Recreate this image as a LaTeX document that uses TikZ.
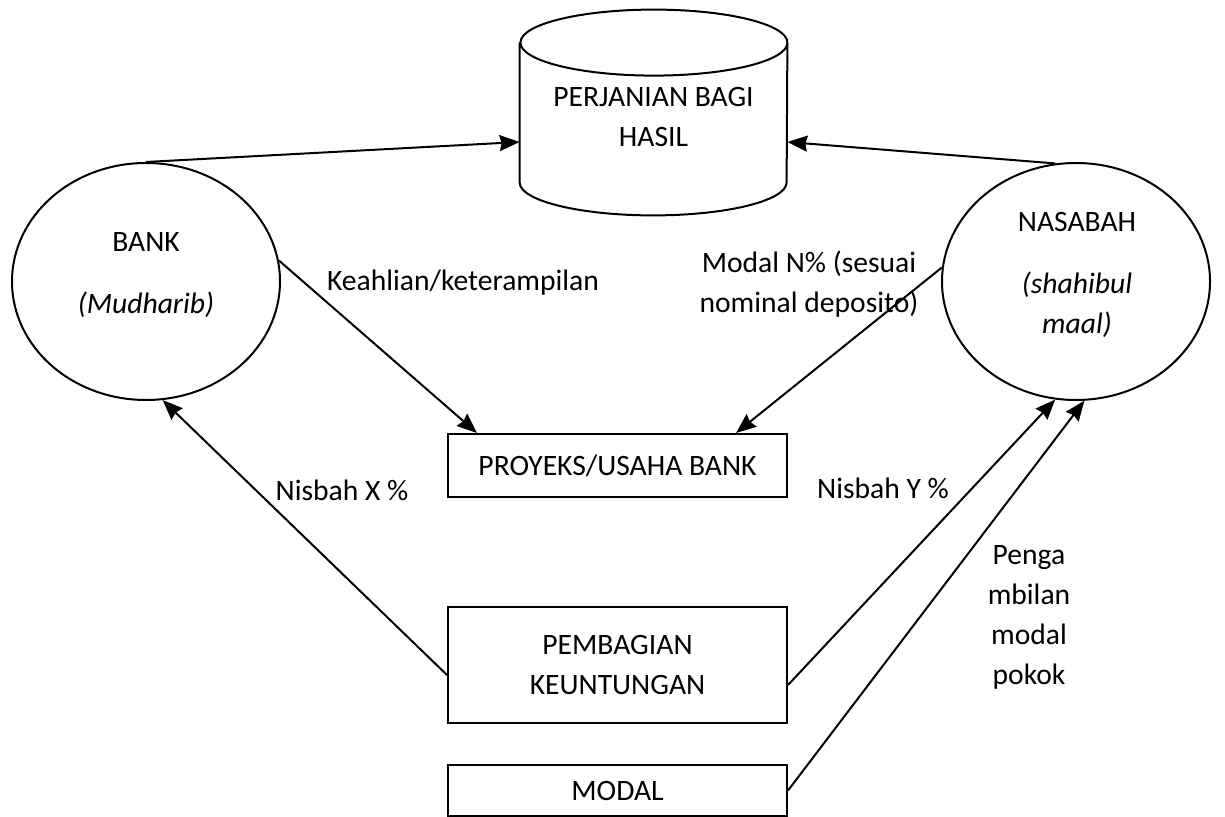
\documentclass[tikz,border=0pt]{standalone}
\usepackage{fontspec}
\setmainfont{Carlito}
\usepackage{tikz}
\usetikzlibrary{shapes.geometric, arrows.meta}
\tikzstyle{party} = [ellipse, minimum width=134pt, minimum height=118.5pt, inner sep=0pt, draw=black, line width=1pt]
\tikzstyle{process} = [rectangle, minimum width=169.5pt, text centered, draw=black, line width=1pt]
\tikzstyle{store} = [rectangle, minimum width=133.5pt, minimum height=69.5pt, inner sep=0pt]
\tikzstyle{txt} = [align=center]
\tikzstyle{arrow} = [line width=1pt,-{Stealth[length=10pt,width=8pt,inset=1pt]}]

\begin{document}
\begin{tikzpicture}[x=0.5pt, y=-0.5pt, font=\fontsize{14.8}{20}\selectfont] % pixel grid of the figure
\useasboundingbox (0,0) rectangle (1225,817);

% Nodes
\node (perjanian) [store] at (653.5,112.5) {};
\draw [line width=1pt] (perjanian.north west) -- (perjanian.south west)
  arc[start angle=180, end angle=360, x radius=66.75pt, y radius=16.5pt] -- (perjanian.north east)
  arc[start angle=0, end angle=360, x radius=66.75pt, y radius=16.5pt];
\node (perjaniantxt) [txt] at (653.5,117) {PERJANIAN BAGI\\HASIL};
\node (bank) [party] at (146,281.5) {};
\node (banktxt) [txt] at (146,275) {BANK\\[11pt]\textit{(Mudharib)}};
\node (nasabah) [party] at (1076,281.5) {};
\node (nasabahtxt) [txt] at (1077,275) {NASABAH\\[11pt]\textit{(shahibul}\\\textit{maal)}};
\node (proyeks) [process, minimum height=31.5pt] at (617.5,465.5) {PROYEKS/USAHA BANK};
\node (pembagian) [process, minimum height=58pt, align=center] at (617.5,665) {PEMBAGIAN\\KEUNTUNGAN};
\node (modal) [process, minimum height=25.5pt] at (617.5,790.5) {MODAL};

% Labels
\node (keahlian) [txt] at (463,283) {Keahlian/keterampilan};
\node (modaln) [txt] at (809,284) {Modal N\% (sesuai\\nominal deposito)};
\node (nisbahx) [txt] at (342,490) {Nisbah X \%};
\node (nisbahy) [txt] at (883,488) {Nisbah Y \%};
\node (pengambilan) [txt] at (1029,617) {Penga\\mbilan\\modal\\pokok};

% Arrows
\draw [arrow] (bank.north) -- ([yshift=-14.75pt]perjanian.west);
\draw [arrow] (nasabah.100) -- ([yshift=-14.75pt]perjanian.east);
\draw [arrow] (bank.9) -- ([xshift=15pt]proyeks.north west);
\draw [arrow] (nasabah.174) -- ([xshift=-26pt]proyeks.north east);
\draw [arrow] ([yshift=-5pt]pembagian.west) -- (bank.-82);
\draw [arrow] ([yshift=-10pt]pembagian.east) -- (nasabah.-100);
\draw [arrow] (modal.east) -- (nasabah.-86);

\end{tikzpicture}
\end{document}
